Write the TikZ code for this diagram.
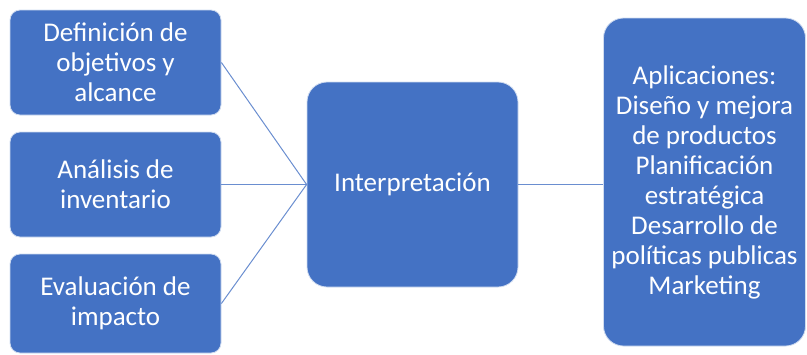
\documentclass[tikz,border=0pt]{standalone}
\usepackage{fontspec}
\setmainfont{Carlito}
\definecolor{boxblue}{HTML}{4472C4}
\definecolor{lineblue}{HTML}{6A8ED0}
\begin{document}
\begin{tikzpicture}[x=1pt,y=-1pt,
  box/.style={fill=boxblue, draw=white!75!boxblue, line width=0.8pt, rounded corners=10pt,
    text=white, align=center, font=\fontsize{27}{30}\selectfont, inner sep=0pt},
  bigbox/.style={box, rounded corners=20pt},
  link/.style={draw=lineblue, line width=1pt}]
\useasboundingbox (0,0) rectangle (807,354);
\begin{scope}
\clip (0,0) rectangle (807,354);
\node[box, minimum width=211pt, minimum height=105pt] (def) at (115.5,62.5) {Definición de\\objetivos y\\alcance};
\node[box, minimum width=211pt, minimum height=105pt] (inv) at (115.5,184.5) {Análisis de\\inventario};
\node[box, minimum width=211pt, minimum height=99pt] (eva) at (115.5,303.5) {Evaluación de\\impacto};
\node[bigbox, minimum width=211pt, minimum height=205pt] (int) at (412.5,184.5) {Interpretación};
\node[bigbox, minimum width=202pt, minimum height=328pt] (apl) at (704.5,182) {Aplicaciones:\\Diseño y mejora\\de productos\\Planificación\\estratégica\\Desarrollo de\\políticas publicas\\Marketing};
\draw[link] (def.east) -- (int.west);
\draw[link] (inv.east) -- (int.west);
\draw[link] (eva.east) -- (int.west);
\draw[link] (int.east) -- (apl.west |- int.east);
\end{scope}
\end{tikzpicture}
\end{document}
